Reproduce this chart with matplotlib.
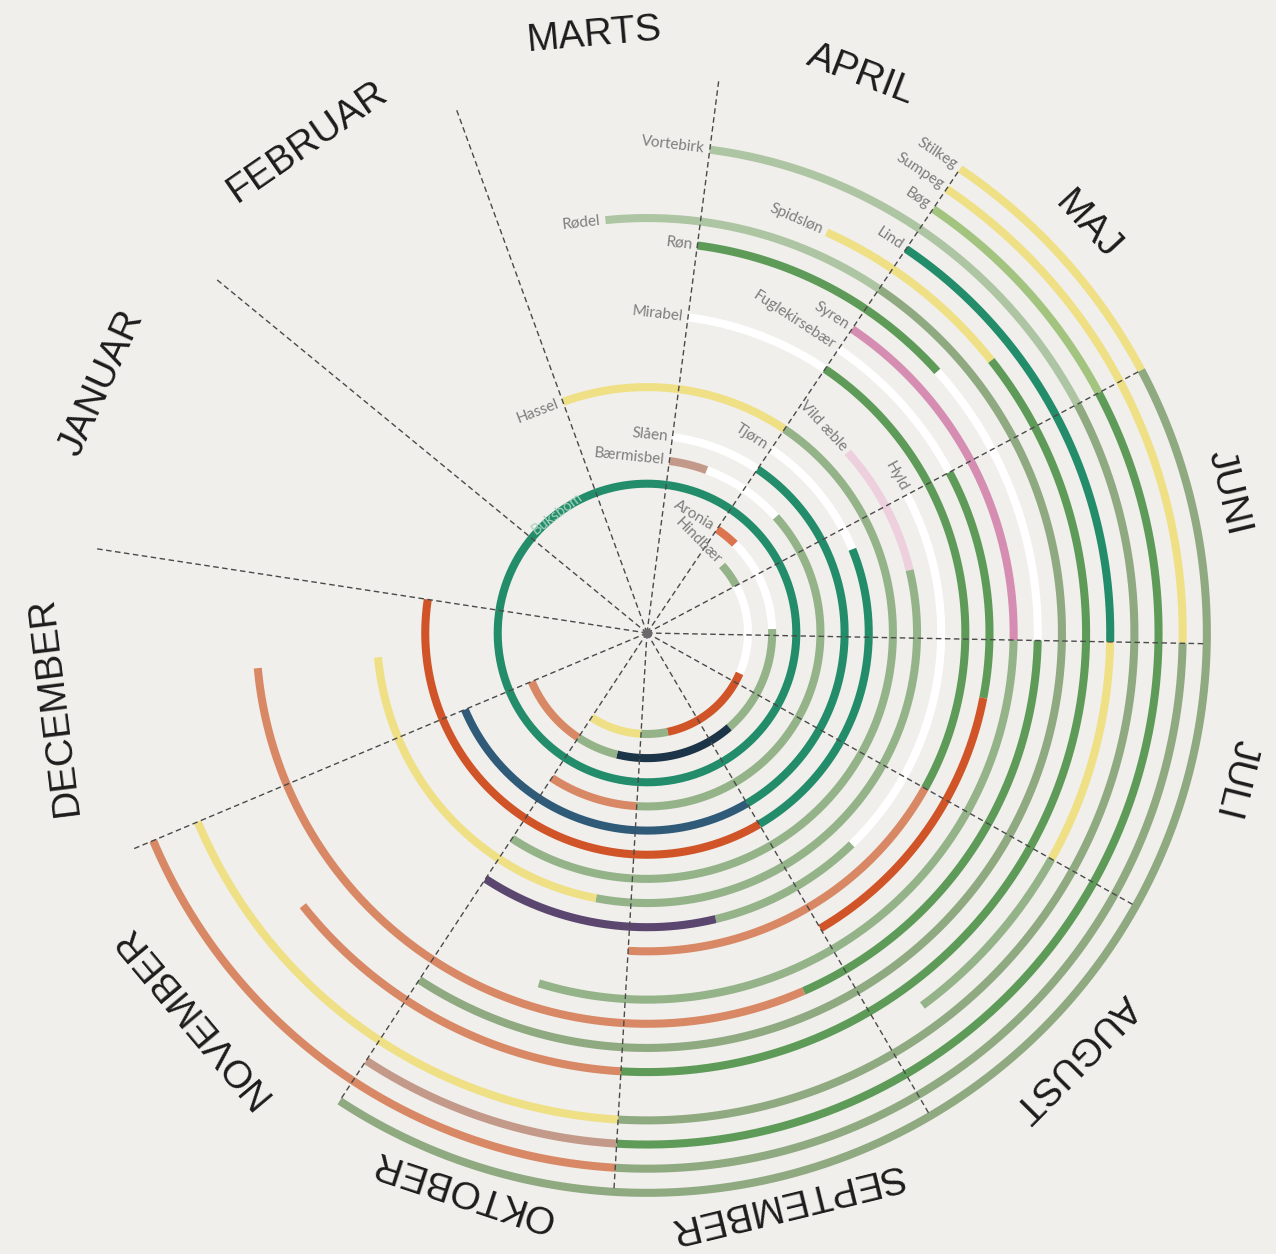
import numpy as np
import matplotlib.pyplot as plt

# months clockwise, starting with January
months = ["JANUAR", "FEBRUAR", "MARTS", "APRIL", "MAJ", "JUNI",
          "JULI", "AUGUST", "SEPTEMBER", "OKTOBER", "NOVEMBER", "DECEMBER"]
# angle (deg clockwise from top) where each month begins, last value = end of December
month_edges = [278.7, 309.4, 340.0, 367.4, 394.0, 422.0, 451.1,
               479.2, 509.6, 543.4, 573.3, 607.2, 638.7]
# where the month names sit (angle, distance from centre)
month_label_deg = [294.6, 325.3, 355.0, 21.0, 47.2, 76.4,
                   104.0, 134.8, 166.3, 198.3, 230.0, 263.0]
month_label_r = [600, 597, 600, 598, 600, 598, 606, 603, 586, 586, 595, 597]

colors = {
    "yellow": "#efe085", "white": "#ffffff", "teal": "#238c6b",
    "green": "#5e9b58", "sage": "#94b389", "sage2": "#8fa981",
    "palesage": "#adc5a2", "lightgreen": "#a3c47f", "red": "#d05427",
    "salmon": "#d98865", "orange": "#dc7450", "taupe": "#c39a89",
    "navy": "#1c3447", "blue": "#2f5b79", "purple": "#5b4670",
    "pink": "#d58db2", "lightpink": "#eecfdd",
}

# plants from the inner ring to the outer ring
plants = ["Hindbær", "Aronia", "Buksbom", "Bærmisbel", "Slåen", "Tjørn",
          "Hassel", "Vild æble", "Hyld", "Mirabel", "Fuglekirsebær", "Syren",
          "Røn", "Rødel", "Spidsløn", "Lind", "Vortebirk", "Bøg", "Sumpeg", "Stilkeg"]

# phases: (from, to, colour), in months where 0 = 1 January
hindbaer = [(4.5, 5.0, "sage"), (5.0, 6.8, "white"), (6.8, 8.55, "red"),
            (8.55, 9.0, "sage"), (9.0, 10.0, "yellow")]
aronia = [(4.0, 4.38, "orange"), (4.38, 5.9, "white"), (5.9, 7.65, "sage"),
          (7.65, 9.35, "navy"), (9.35, 10.0, "sage"), (10.0, 11.0, "salmon")]
buksbom = [(0.0, 12.0, "teal")]
baermisbel = [(3.0, 3.48, "taupe"), (3.48, 4.5, "white"), (4.5, 9.0, "sage"),
              (9.0, 10.0, "salmon")]
slaaen = [(3.0, 4.0, "white"), (4.0, 8.0, "teal"), (8.0, 11.0, "blue")]
tjoern = [(4.0, 5.2, "white"), (5.2, 8.0, "teal"), (8.0, 12.0, "red")]
hassel = [(2.0, 4.0, "yellow"), (4.0, 10.0, "sage")]
vild_aeble = [(4.5, 5.5, "lightpink"), (5.5, 9.25, "sage"), (9.25, 11.56, "yellow")]
hyld = [(5.0, 7.55, "white"), (7.55, 8.5, "sage"), (8.5, 10.0, "purple")]
mirabel = [(3.0, 4.0, "white"), (4.0, 7.0, "green"), (7.0, 9.0, "salmon")]
fuglekirsebaer = [(4.0, 5.0, "white"), (5.0, 6.35, "green"), (6.35, 8.0, "red")]
syren = [(4.0, 6.0, "pink"), (6.0, 9.46, "sage")]
roen = [(3.0, 4.5, "green"), (4.5, 6.0, "white"), (6.0, 8.2, "green"),
        (8.2, 11.56, "salmon")]
roedel = [(2.52, 4.0, "palesage"), (4.0, 10.0, "sage2")]
spidsloen = [(3.63, 4.63, "yellow"), (4.63, 9.0, "green"), (9.0, 10.54, "salmon")]
lind = [(4.0, 6.0, "teal"), (6.0, 7.0, "yellow"), (7.0, 7.8, "sage")]
vortebirk = [(3.0, 5.0, "palesage"), (5.0, 9.0, "sage2"), (9.0, 11.0, "yellow")]
boeg = [(4.0, 5.0, "lightgreen"), (5.0, 9.0, "green"), (9.0, 10.0, "taupe")]
sumpeg = [(4.0, 6.0, "yellow"), (6.0, 9.0, "sage2"), (9.0, 11.0, "salmon")]
stilkeg = [(4.0, 5.0, "yellow"), (5.0, 10.0, "sage2")]

phases = [hindbaer, aronia, buksbom, baermisbel, slaaen, tjoern, hassel,
          vild_aeble, hyld, mirabel, fuglekirsebaer, syren, roen, roedel,
          spidsloen, lind, vortebirk, boeg, sumpeg, stilkeg]

R0, STEP, LW = 101, 24.15, 5.8


def month_to_theta(m):
    return np.deg2rad(np.interp(m, np.arange(13), month_edges))


fig = plt.figure(figsize=(12.76, 12.54), dpi=100, facecolor="#f0efeb")
ax = fig.add_axes([27 / 1276, 1 / 1254, 1240 / 1276, 1240 / 1254], projection="polar")
ax.set_theta_zero_location("N")
ax.set_theta_direction(-1)
ax.set_rlim(0, 620)
ax.axis("off")

for i, (name, segs) in enumerate(zip(plants, phases)):
    r = R0 + i * STEP
    for a, b, c in segs:
        t = month_to_theta(np.linspace(a, b, 300))
        ax.plot(t, np.full_like(t, r), color=colors[c], lw=LW,
                solid_capstyle="butt", zorder=2)
    if name == "Buksbom":
        t = np.deg2rad(323)
        ax.text(t, r, name, rotation=37, ha="center", va="center",
                rotation_mode="anchor", fontsize=10.5, family="Lato",
                color="#a7d3bf", zorder=4)
    else:
        t = month_to_theta(segs[0][0]) - 5 / r
        ax.text(t, r, name, rotation=-np.rad2deg(t), ha="right", va="center",
                rotation_mode="anchor", fontsize=11, family="Lato",
                color="#7d7d7d", zorder=4)

# month dividers
for e in month_edges[:-1]:
    t = np.deg2rad(e)
    ax.plot([t, t], [0, 558], color="#4a4a4a", lw=1, ls=(0, (4, 2.5)), zorder=3)
ax.plot(0, 0, "o", ms=6, color="#6a6a6a", zorder=5)

# month names
for k, m in enumerate(months):
    mid = month_label_deg[k]
    ax.text(np.deg2rad(mid), month_label_r[k], m, rotation=-mid, ha="center",
            va="center", rotation_mode="anchor", fontsize=28,
            family="Liberation Sans", color="#1c1c1c")

fig.savefig("out.png", dpi=100, facecolor=fig.get_facecolor())
